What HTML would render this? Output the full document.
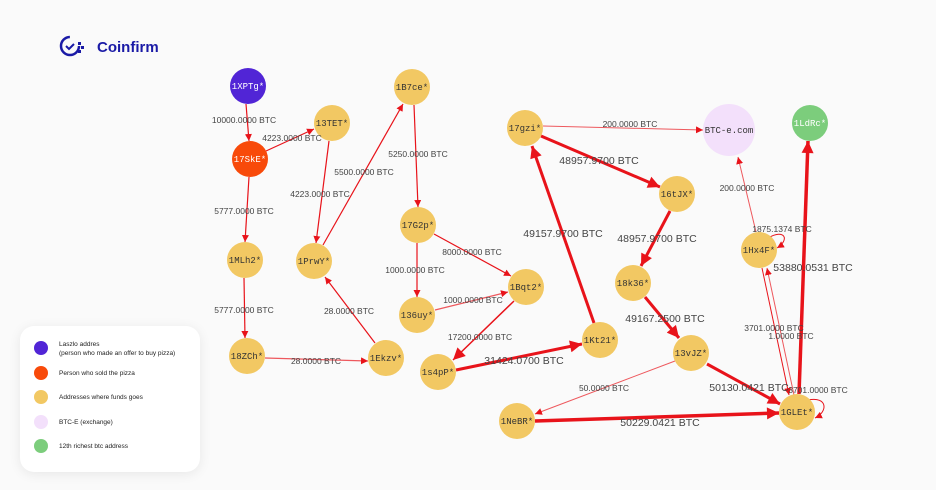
<!DOCTYPE html>
<html><head><meta charset="utf-8"><style>
body{margin:0;background:#fafafa;width:936px;height:490px;overflow:hidden;font-family:"Liberation Sans",sans-serif}
.lg{position:absolute;left:20px;top:326px;width:180px;height:146px;background:#fff;border-radius:14px;box-shadow:0 2px 12px rgba(0,0,0,.08)}
</style></head><body>
<svg width="936" height="490" style="position:absolute;left:0;top:0">
<defs>
<marker id="a" viewBox="0 0 10 10" refX="10" refY="5" markerWidth="7" markerHeight="7" markerUnits="userSpaceOnUse" orient="auto"><path d="M0,0L10,5L0,10z" fill="#e8131a"/></marker>
<marker id="b" viewBox="0 0 10 10" refX="10" refY="5" markerWidth="14" markerHeight="12" markerUnits="userSpaceOnUse" orient="auto"><path d="M0,0L10,5L0,10z" fill="#e8131a"/></marker>
</defs>
<!-- logo -->
<circle cx="70" cy="46" r="9" fill="none" stroke="#1a1aa6" stroke-width="2.5" stroke-dasharray="42 15"/>
<path d="M66,46l3,3l5,-5" fill="none" stroke="#1a1aa6" stroke-width="2"/>
<rect x="78" y="42" width="3" height="3" fill="#1a1aa6"/><rect x="81" y="46" width="3" height="3" fill="#1a1aa6"/><rect x="78" y="50" width="3" height="3" fill="#1a1aa6"/>
<text x="97" y="52" font-size="15" font-weight="bold" fill="#1a1aa6">Coinfirm</text>
<g stroke="#e8131a" fill="none">
<line x1="246" y1="104" x2="249" y2="141" stroke-width="1.2" marker-end="url(#a)"/>
<line x1="266" y1="151" x2="314" y2="129" stroke-width="1.2" marker-end="url(#a)"/>
<line x1="249" y1="177" x2="245" y2="242" stroke-width="1.2" marker-end="url(#a)"/>
<line x1="329" y1="141" x2="316" y2="243" stroke-width="1.2" marker-end="url(#a)"/>
<line x1="323" y1="245" x2="403" y2="104" stroke-width="1.2" marker-end="url(#a)"/>
<line x1="414" y1="105" x2="418" y2="207" stroke-width="1.2" marker-end="url(#a)"/>
<line x1="244" y1="278" x2="245" y2="338" stroke-width="1.2" marker-end="url(#a)"/>
<line x1="265" y1="358" x2="368" y2="361" stroke-width="1.2" marker-end="url(#a)" stroke-opacity=".7"/>
<line x1="375" y1="343" x2="325" y2="277" stroke-width="1.2" marker-end="url(#a)"/>
<line x1="417" y1="243" x2="417" y2="297" stroke-width="1.2" marker-end="url(#a)"/>
<line x1="434" y1="234" x2="511" y2="276" stroke-width="1.2" marker-end="url(#a)"/>
<line x1="435" y1="310" x2="508" y2="292" stroke-width="1.2" marker-end="url(#a)" stroke-opacity=".7"/>
<line x1="514" y1="301" x2="453" y2="360" stroke-width="1.5" marker-end="url(#b)"/>
<line x1="456" y1="370" x2="582" y2="344" stroke-width="3" marker-end="url(#b)"/>
<line x1="594" y1="323" x2="532" y2="146" stroke-width="3" marker-end="url(#b)"/>
<line x1="543" y1="126" x2="703" y2="130" stroke-width="1" marker-end="url(#a)" stroke-opacity=".7"/>
<line x1="541" y1="136" x2="660" y2="187" stroke-width="3" marker-end="url(#b)"/>
<line x1="670" y1="211" x2="641" y2="266" stroke-width="3" marker-end="url(#b)"/>
<line x1="645" y1="297" x2="679" y2="338" stroke-width="3" marker-end="url(#b)"/>
<line x1="675" y1="361" x2="535" y2="414" stroke-width="1" marker-end="url(#a)" stroke-opacity=".7"/>
<line x1="707" y1="364" x2="780" y2="404" stroke-width="3" marker-end="url(#b)"/>
<line x1="535" y1="421" x2="779" y2="413" stroke-width="3.5" marker-end="url(#b)"/>
<line x1="799" y1="394" x2="808" y2="141" stroke-width="3.5" marker-end="url(#b)"/>
<line x1="756" y1="232" x2="738" y2="157" stroke-width="1" marker-end="url(#a)" stroke-opacity=".7"/>
<line x1="762" y1="268" x2="789" y2="395" stroke-width="1" marker-end="url(#a)"/>
<line x1="794" y1="395" x2="767" y2="268" stroke-width="1" marker-end="url(#a)" stroke-opacity=".7"/>
<path d="M768,238 C785,228 790,240 777,248" stroke-width="1" marker-end="url(#a)"/>
<path d="M808,400 C828,396 828,412 815,418" stroke-width="1" marker-end="url(#a)"/>
</g>
<g font-family="Liberation Mono,monospace" font-size="9" text-anchor="middle" fill="#333">
<circle cx="248" cy="86" r="18" fill="#5125d6"/><text x="248" y="89" fill="#fff">1XPTg*</text>
<circle cx="250" cy="159" r="18" fill="#f84a0a"/><text x="250" y="162" fill="#fff">17SkE*</text>
<circle cx="332" cy="123" r="18" fill="#f2c863"/><text x="332" y="126">13TET*</text>
<circle cx="412" cy="87" r="18" fill="#f2c863"/><text x="412" y="90">1B7ce*</text>
<circle cx="245" cy="260" r="18" fill="#f2c863"/><text x="245" y="263">1MLh2*</text>
<circle cx="314" cy="261" r="18" fill="#f2c863"/><text x="314" y="264">1PrwY*</text>
<circle cx="418" cy="225" r="18" fill="#f2c863"/><text x="418" y="228">17G2p*</text>
<circle cx="417" cy="315" r="18" fill="#f2c863"/><text x="417" y="318">136uy*</text>
<circle cx="526" cy="287" r="18" fill="#f2c863"/><text x="526" y="290">1Bqt2*</text>
<circle cx="247" cy="356" r="18" fill="#f2c863"/><text x="247" y="359">18ZCh*</text>
<circle cx="386" cy="358" r="18" fill="#f2c863"/><text x="386" y="361">1Ekzv*</text>
<circle cx="438" cy="372" r="18" fill="#f2c863"/><text x="438" y="375">1s4pP*</text>
<circle cx="525" cy="128" r="18" fill="#f2c863"/><text x="525" y="131">17gzi*</text>
<circle cx="677" cy="194" r="18" fill="#f2c863"/><text x="677" y="197">16tJX*</text>
<circle cx="633" cy="283" r="18" fill="#f2c863"/><text x="633" y="286">18k36*</text>
<circle cx="600" cy="340" r="18" fill="#f2c863"/><text x="600" y="343">1Kt21*</text>
<circle cx="691" cy="353" r="18" fill="#f2c863"/><text x="691" y="356">13vJZ*</text>
<circle cx="517" cy="421" r="18" fill="#f2c863"/><text x="517" y="424">1NeBR*</text>
<circle cx="797" cy="412" r="18" fill="#f2c863"/><text x="797" y="415">1GLEt*</text>
<circle cx="759" cy="250" r="18" fill="#f2c863"/><text x="759" y="253">1Hx4F*</text>
<circle cx="729" cy="130" r="26" fill="#f3e0fb"/><text x="729" y="133">BTC-e.com</text>
<circle cx="810" cy="123" r="18" fill="#7ccd7c"/><text x="810" y="126" fill="#fff">1LdRc*</text>
</g>
<g font-size="8.5" text-anchor="middle" fill="#444">
<text x="244" y="123">10000.0000 BTC</text>
<text x="292" y="141">4223.0000 BTC</text>
<text x="244" y="214">5777.0000 BTC</text>
<text x="320" y="197">4223.0000 BTC</text>
<text x="364" y="175">5500.0000 BTC</text>
<text x="418" y="157">5250.0000 BTC</text>
<text x="244" y="313">5777.0000 BTC</text>
<text x="316" y="364">28.0000 BTC</text>
<text x="349" y="314">28.0000 BTC</text>
<text x="415" y="273">1000.0000 BTC</text>
<text x="472" y="255">8000.0000 BTC</text>
<text x="473" y="303">1000.0000 BTC</text>
<text x="480" y="340">17200.0000 BTC</text>
<text x="630" y="127">200.0000 BTC</text>
<text x="747" y="191">200.0000 BTC</text>
<text x="782" y="232">1875.1374 BTC</text>
<text x="774" y="331">3701.0000 BTC</text>
<text x="791" y="339">1.0000 BTC</text>
<text x="818" y="393">3701.0000 BTC</text>
<text x="604" y="391">50.0000 BTC</text>
</g>
<g font-size="10.5" text-anchor="middle" fill="#444">
<text x="599" y="164">48957.9700 BTC</text>
<text x="563" y="237">49157.9700 BTC</text>
<text x="657" y="242">48957.9700 BTC</text>
<text x="813" y="271">53880.0531 BTC</text>
<text x="665" y="322">49167.2500 BTC</text>
<text x="524" y="364">31424.0700 BTC</text>
<text x="749" y="391">50130.0421 BTC</text>
<text x="660" y="426">50229.0421 BTC</text>
</g>
</svg>
<div class="lg"></div>
<svg width="936" height="490" style="position:absolute;left:0;top:0">
<g font-size="6.5" fill="#222">
<circle cx="41" cy="348" r="7" fill="#5125d6"/><text x="59" y="346">Laszlo addres</text><text x="59" y="355">(person who made an offer to buy pizza)</text>
<circle cx="41" cy="373" r="7" fill="#f84a0a"/><text x="59" y="375">Person who sold the pizza</text>
<circle cx="41" cy="397" r="7" fill="#f2c863"/><text x="59" y="399">Addresses where funds goes</text>
<circle cx="41" cy="422" r="7" fill="#f3e0fb"/><text x="59" y="424">BTC-E (exchange)</text>
<circle cx="41" cy="446" r="7" fill="#7ccd7c"/><text x="59" y="448">12th richest btc address</text>
</g>
</svg>
</body></html>
